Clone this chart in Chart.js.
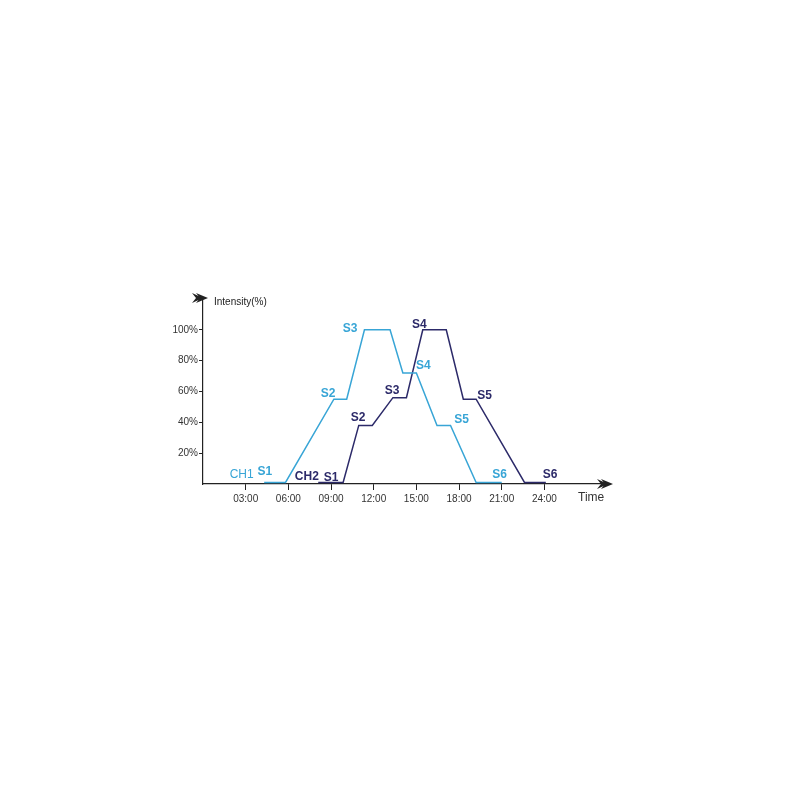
<!DOCTYPE html>
<html>
<head>
<meta charset="utf-8">
<script src="https://cdn.jsdelivr.net/npm/chart.js@4/dist/chart.umd.min.js"></script>
<style>
  body { margin: 0; background: #fff; }
  #wrap { width: 800px; height: 800px; }
</style>
</head>
<body>
<div id="wrap"><canvas id="lightChart" width="800" height="800"></canvas></div>
<script>
// channel curves, hour of day vs intensity %
const ch1Hours = [4.3, 5.8, 9.2, 10.1, 11.35, 13.15, 14.05, 15.0, 16.45, 17.4, 19.2, 21.0];
const ch1Values = [1, 1, 55, 55, 100, 100, 72, 72, 38, 38, 1, 1];
const ch2Hours = [8.1, 9.85, 10.95, 11.9, 13.35, 14.3, 15.45, 17.1, 18.3, 19.2, 22.6, 24.1];
const ch2Values = [1, 1, 38, 38, 56, 56, 100, 100, 55, 55, 1, 1];

const yTicks = [20, 40, 60, 80, 100];
const xTicks = [3, 6, 9, 12, 15, 18, 21, 24];

// step labels (text, hour, intensity)
const ch1Labels = ['CH1', 'S1', 'S2', 'S3', 'S4', 'S5', 'S6'];
const ch1LabelHours = [2.72, 4.34, 8.79, 10.34, 15.49, 18.17, 20.85];
const ch1LabelValues = [5.8, 7.8, 58.4, 100.6, 76.6, 41.6, 5.8];
const ch2Labels = ['CH2', 'S1', 'S2', 'S3', 'S4', 'S5', 'S6'];
const ch2LabelHours = [7.3, 9.0, 10.9, 13.3, 15.2, 19.8, 24.4];
const ch2LabelValues = [4.5, 3.9, 42.9, 60.4, 103.2, 57.1, 5.8];

const lightBlue = '#38a5d6';
const navy = '#2c2a69';
const axisColor = '#222';
const font = '"Liberation Sans", Arial, sans-serif';

function pad(h) { return (h < 10 ? '0' : '') + h + ':00'; }

const extras = {
  id: 'extras',
  afterDraw(chart) {
    const ctx = chart.ctx;
    const xs = chart.scales.x, ys = chart.scales.y;
    const area = chart.chartArea;
    ctx.save();

    // double arrow heads, both pointing right like the reference
    function arrow(x, y) {
      ctx.save();
      ctx.translate(x, y);
      ctx.fillStyle = axisColor;
      ctx.beginPath();
      ctx.moveTo(0, 0);
      ctx.lineTo(-12, -5);
      ctx.lineTo(-8, 0);
      ctx.lineTo(-12, 5);
      ctx.closePath();
      ctx.fill();
      ctx.beginPath();
      ctx.moveTo(-5, 0);
      ctx.lineTo(-16, -5);
      ctx.lineTo(-12, 0);
      ctx.lineTo(-16, 5);
      ctx.closePath();
      ctx.fill();
      ctx.restore();
    }
    arrow(area.right + 6, area.bottom);
    arrow(area.left + 5, area.top - 1);

    ctx.fillStyle = axisColor;
    ctx.font = '10px ' + font;
    ctx.textAlign = 'left';
    ctx.textBaseline = 'middle';
    ctx.fillText('Intensity(%)', area.left + 11, area.top + 3);
    ctx.font = '12px ' + font;
    ctx.fillStyle = '#333';
    ctx.fillText('Time', area.right - 29, area.bottom + 14);

    // step labels
    ctx.textAlign = 'center';
    function labels(texts, hours, vals, color, chBold) {
      ctx.fillStyle = color;
      texts.forEach((t, i) => {
        const bold = !t.startsWith('CH') || chBold;
        ctx.font = (bold ? 'bold 12px ' : '12px ') + font;
        ctx.fillText(t, xs.getPixelForValue(hours[i]), ys.getPixelForValue(vals[i]));
      });
    }
    labels(ch1Labels, ch1LabelHours, ch1LabelValues, lightBlue, false);
    labels(ch2Labels, ch2LabelHours, ch2LabelValues, navy, true);
    ctx.restore();
  }
};

new Chart(document.getElementById('lightChart'), {
  type: 'line',
  data: {
    datasets: [
      {
        label: 'CH1',
        data: ch1Hours.map((h, i) => ({ x: h, y: ch1Values[i] })),
        borderColor: lightBlue,
        borderWidth: 1.5,
        pointRadius: 0,
        tension: 0
      },
      {
        label: 'CH2',
        data: ch2Hours.map((h, i) => ({ x: h, y: ch2Values[i] })),
        borderColor: navy,
        borderWidth: 1.5,
        pointRadius: 0,
        tension: 0
      }
    ]
  },
  options: {
    responsive: false,
    animation: false,
    layout: { padding: { top: 299, right: 193, left: 0, bottom: 0 } },
    plugins: { legend: { display: false }, tooltip: { enabled: false } },
    scales: {
      x: {
        type: 'linear',
        min: 0,
        max: 28.4,
        afterBuildTicks: s => { s.ticks = xTicks.map(v => ({ value: v })); },
        afterFit: s => { s.height = 316; },
        border: { color: axisColor, width: 1.2 },
        grid: { drawOnChartArea: false, drawTicks: true, tickLength: 6, color: axisColor },
        ticks: {
          callback: v => pad(v),
          color: '#333',
          font: { family: font, size: 10 },
          maxRotation: 0,
          padding: 3
        }
      },
      y: {
        min: 0,
        max: 120,
        afterBuildTicks: s => { s.ticks = yTicks.map(v => ({ value: v })); },
        afterFit: s => { s.width = 203; },
        border: { color: axisColor, width: 1.2 },
        grid: { drawOnChartArea: false, drawTicks: true, tickLength: 4, color: axisColor },
        ticks: {
          callback: v => v + '%',
          color: '#333',
          font: { family: font, size: 10 },
          padding: 1
        }
      }
    }
  },
  plugins: [extras]
});
</script>
</body>
</html>
